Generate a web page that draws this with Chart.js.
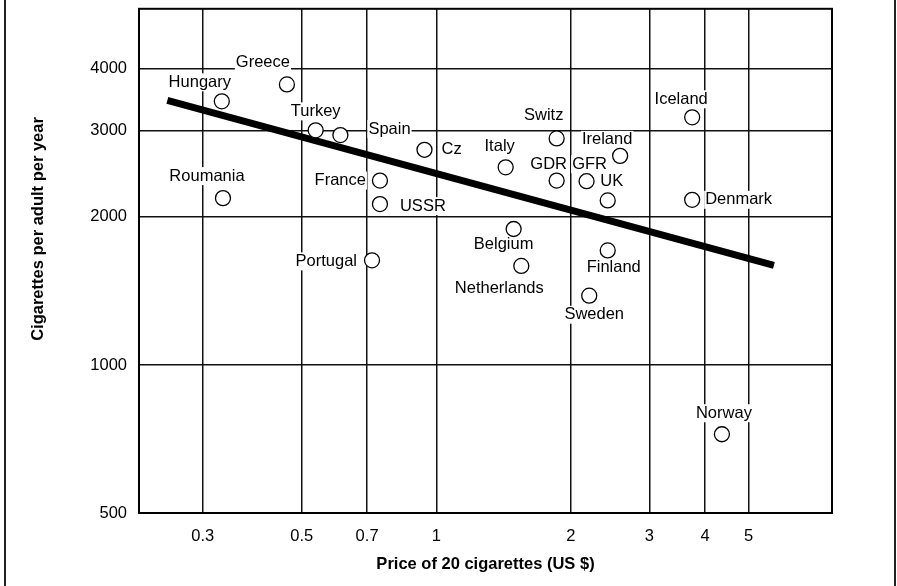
<!DOCTYPE html>
<html>
<head>
<meta charset="utf-8">
<script src="https://cdn.jsdelivr.net/npm/chart.js@4/dist/chart.umd.min.js"></script>
<style>
  html, body { margin: 0; padding: 0; background: #fff; }
  canvas { display: block; }
</style>
</head>
<body>
<canvas id="chart" width="897" height="586"></canvas>
<script>
// Cigarette consumption against price, 22 countries
const countries = ['Hungary', 'Greece', 'Roumania', 'Turkey', 'Spain', 'France', 'USSR', 'Portugal',
  'Cz', 'Italy', 'Belgium', 'Netherlands', 'Switz', 'GDR', 'GFR', 'Sweden', 'UK', 'Finland',
  'Ireland', 'Iceland', 'Denmark', 'Norway'];
const price = [0.331, 0.463, 0.333, 0.537, 0.61, 0.748, 0.748, 0.718,
  0.941, 1.43, 1.49, 1.55, 1.86, 1.86, 2.17, 2.20, 2.42, 2.42,
  2.58, 3.74, 3.74, 4.36];
const cigarettes = [3436, 3720, 2184, 3000, 2934, 2371, 2124, 1632,
  2739, 2523, 1890, 1590, 2888, 2371, 2364, 1383, 2161, 1710,
  2662, 3189, 2167, 723];

// Fitted trend line end points
const fitPrice = [0.25, 5.7];
const fitCigarettes = [3450, 1595];

// Axis ticks
const xTicks = [0.3, 0.5, 0.7, 1, 2, 3, 4, 5];
const xTickLabels = ['0.3', '0.5', '0.7', '1', '2', '3', '4', '5'];
const yTicks = [500, 1000, 2000, 3000, 4000];
const yTickLabels = ['500', '1000', '2000', '3000', '4000'];

// Where each country name sits relative to its marker: [align, dx, dy]
const labelPlacement = [
  ['center', -22, -19], ['center', -24, -22], ['center', -16, -22], ['center', 0, -19],
  ['left', 28, -6], ['right', -14, 0], ['left', 20, 2], ['right', -15, 1],
  ['left', 17, 0], ['center', -6, -21], ['center', -10, 15], ['center', -22, 23],
  ['center', -13, -23], ['center', -8, -16], ['center', 3, -17], ['center', 5, 19],
  ['center', 4, -19], ['center', 6, 17], ['center', -13, -16], ['center', -11, -18],
  ['left', 13, 0], ['center', 2, -21]
];

const FONT = '"Liberation Sans", Arial, Helvetica, sans-serif';
const FONT_SIZE = 16.5;

const framePlugin = {
  id: 'frame',
  beforeDraw(chart) {
    const ctx = chart.ctx;
    ctx.save();
    ctx.fillStyle = '#fff';
    ctx.fillRect(0, 0, chart.width, chart.height);
    ctx.fillStyle = '#222';
    ctx.fillRect(4, 0, 2, chart.height);
    ctx.fillRect(894, 0, 2, chart.height);
    ctx.restore();
  },
  afterDraw(chart) {
    // rotated y-axis title
    const ctx = chart.ctx;
    ctx.save();
    ctx.translate(38, 229);
    ctx.rotate(-Math.PI / 2);
    ctx.font = 'bold ' + FONT_SIZE + 'px ' + FONT;
    ctx.fillStyle = '#000';
    ctx.textAlign = 'center';
    ctx.textBaseline = 'middle';
    ctx.fillText('Cigarettes per adult per year', 0, 0);
    ctx.restore();
  }
};

const countryLabels = {
  id: 'countryLabels',
  beforeDatasetsDraw(chart) {
    const ctx = chart.ctx;
    const area = chart.chartArea;
    const xs = chart.scales.x, ys = chart.scales.y;
    ctx.save();
    // plot frame
    ctx.strokeStyle = '#000';
    ctx.lineWidth = 2;
    ctx.strokeRect(area.left, area.top, area.right - area.left, area.bottom - area.top);

    ctx.font = FONT_SIZE + 'px ' + FONT;
    ctx.textBaseline = 'middle';
    countries.forEach((name, i) => {
      const [align, dx, dy] = labelPlacement[i];
      const px = xs.getPixelForValue(price[i]);
      const py = ys.getPixelForValue(cigarettes[i]);
      const w = ctx.measureText(name).width;
      const ax = px + dx, ay = py + dy;
      let left = ax;
      if (align === 'center') left = ax - w / 2;
      else if (align === 'right') left = ax - w;
      ctx.fillStyle = '#fff';
      ctx.fillRect(left - 1, ay - 9, w + 2, 18);
      ctx.fillStyle = '#000';
      ctx.textAlign = align;
      ctx.fillText(name, ax, ay);
    });
    ctx.restore();
  }
};

new Chart(document.getElementById('chart'), {
  type: 'scatter',
  data: {
    datasets: [
      {
        data: countries.map((c, i) => ({ x: price[i], y: cigarettes[i] })),
        pointRadius: 7.5,
        pointHoverRadius: 7.5,
        pointBackgroundColor: '#fff',
        pointBorderColor: '#000',
        pointBorderWidth: 1.3,
        order: 0
      },
      {
        data: fitPrice.map((p, i) => ({ x: p, y: fitCigarettes[i] })),
        showLine: true,
        borderColor: '#000',
        borderWidth: 7,
        borderCapStyle: 'butt',
        pointRadius: 0,
        pointHoverRadius: 0,
        fill: false,
        order: 1
      }
    ]
  },
  options: {
    responsive: false,
    animation: false,
    devicePixelRatio: 1,
    events: [],
    layout: { padding: { top: 7, right: 65, left: 0, bottom: 0 } },
    plugins: { legend: { display: false }, tooltip: { enabled: false } },
    scales: {
      x: {
        type: 'logarithmic',
        min: 0.216,
        max: 7.69,
        afterBuildTicks: s => { s.ticks = xTicks.map(v => ({ value: v })); },
        afterFit: s => { s.height = 73; s.paddingLeft = 0; s.paddingRight = 0; },
        grid: { color: '#111', lineWidth: 1.5, drawTicks: false },
        border: { display: false },
        ticks: {
          padding: 14, color: '#000', autoSkip: false, maxRotation: 0,
          font: { family: FONT, size: FONT_SIZE },
          callback: v => { const k = xTicks.indexOf(v); return k >= 0 ? xTickLabels[k] : ''; }
        },
        title: {
          display: true, text: 'Price of 20 cigarettes (US $)', color: '#000',
          font: { family: FONT, size: FONT_SIZE, weight: 'bold' },
          padding: { top: 0, bottom: 12 }
        }
      },
      y: {
        type: 'logarithmic',
        min: 500,
        max: 5300,
        afterBuildTicks: s => { s.ticks = yTicks.map(v => ({ value: v })); },
        afterFit: s => { s.width = 139; s.paddingTop = 0; s.paddingBottom = 0; },
        grid: { color: '#111', lineWidth: 1.5, drawTicks: false },
        border: { display: false },
        ticks: {
          padding: 12, color: '#000', autoSkip: false,
          font: { family: FONT, size: FONT_SIZE },
          callback: v => { const k = yTicks.indexOf(v); return k >= 0 ? yTickLabels[k] : ''; }
        }
      }
    }
  },
  plugins: [framePlugin, countryLabels]
});
</script>
</body>
</html>
